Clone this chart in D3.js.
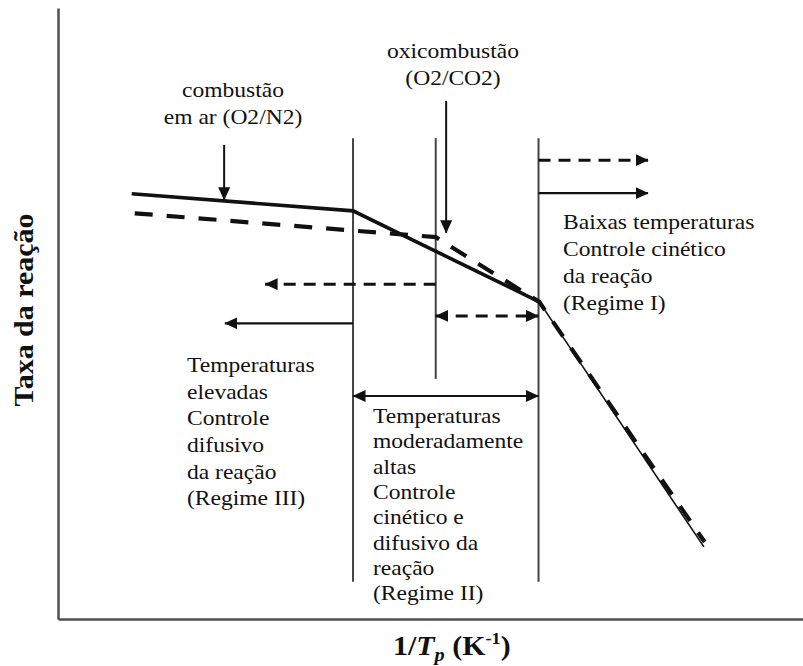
<!DOCTYPE html>
<html>
<head>
<meta charset="utf-8">
<script src="https://cdn.jsdelivr.net/npm/d3@7"></script>
<style>
  html, body { margin: 0; padding: 0; background: #fff; }
  svg { display: block; }
  text { font-family: "Liberation Serif", "Times New Roman", serif; fill: #111; }
</style>
</head>
<body>
<script>
// Schematic: reaction rate vs 1/Tp, air (O2/N2) vs oxy-fuel (O2/CO2) combustion regimes
const xDomain = [0, 10];
const yDomain = [0, 10];

// Air combustion (solid) and oxy-combustion (dashed) curves
const airCurve = [
  { x: 0.99, y: 6.96 },
  { x: 3.96, y: 6.68 },
  { x: 6.46, y: 5.19 },
  { x: 8.67, y: 1.18 }
];
const oxyCurve = [
  { x: 1.03, y: 6.64 },
  { x: 5.07, y: 6.25 },
  { x: 6.46, y: 5.19 },
  { x: 8.68, y: 1.26 }
];

// Regime boundaries (vertical lines)
const boundaries = [
  { x: 3.96, y0: 0.61, y1: 7.87 },
  { x: 5.07, y0: 3.93, y1: 7.87 },
  { x: 6.45, y0: 0.61, y1: 7.87 }
];

// Horizontal range arrows
const rangeArrows = [
  { x0: 6.45, x1: 7.92, y: 7.51, dashed: true,  both: false },
  { x0: 6.45, x1: 7.92, y: 6.97, dashed: false, both: false },
  { x0: 5.07, x1: 2.78, y: 5.48, dashed: true,  both: false },
  { x0: 3.96, x1: 2.24, y: 4.84, dashed: false, both: false },
  { x0: 5.07, x1: 6.45, y: 4.96, dashed: true,  both: true },
  { x0: 3.96, x1: 6.45, y: 3.65, dashed: false, both: true }
];

// Pointer arrows to each curve
const pointers = [
  { x: 2.23, y0: 7.76, y1: 6.86 },
  { x: 5.21, y0: 8.48, y1: 6.32 }
];

const airLabel = ["combustão", "em ar (O2/N2)"];
const oxyLabel = ["oxicombustão", "(O2/CO2)"];
const regimeI = ["Baixas temperaturas", "Controle cinético", "da reação", "(Regime I)"];
const regimeII = ["Temperaturas", "moderadamente", "altas", "Controle", "cinético e", "difusivo da", "reação", "(Regime II)"];
const regimeIII = ["Temperaturas", "elevadas", "Controle", "difusivo", "da reação", "(Regime III)"];
const yTitle = "Taxa da reação";

const W = 803, H = 666;
const svg = d3.select("body").append("svg").attr("width", W).attr("height", H);
svg.append("rect").attr("width", W).attr("height", H).attr("fill", "#fff");

const x = d3.scaleLinear().domain(xDomain).range([58, 803]);
const y = d3.scaleLinear().domain(yDomain).range([619, 8]);

// Arrowhead markers
const defs = svg.append("defs");
defs.append("marker")
  .attr("id", "head")
  .attr("markerUnits", "userSpaceOnUse")
  .attr("viewBox", "0 0 13 12")
  .attr("markerWidth", 13).attr("markerHeight", 12)
  .attr("refX", 12.5).attr("refY", 6)
  .attr("orient", "auto-start-reverse")
  .append("path").attr("d", "M0,0L13,6L0,12Z").attr("fill", "#111");

// Axes without ticks
const axisColor = "#505050";
const gx = svg.append("g").attr("transform", `translate(0,${y(0)})`)
  .call(d3.axisBottom(x).tickValues([]).tickSizeOuter(0));
const gy = svg.append("g").attr("transform", `translate(${x(0)},0)`)
  .call(d3.axisLeft(y).tickValues([]).tickSizeOuter(0));
[gx, gy].forEach(g => g.select(".domain").attr("stroke", axisColor).attr("stroke-width", 2.5));

// Regime boundaries
svg.append("g").selectAll("line").data(boundaries).join("line")
  .attr("x1", d => x(d.x)).attr("x2", d => x(d.x))
  .attr("y1", d => y(d.y0)).attr("y2", d => y(d.y1))
  .attr("stroke", "#444").attr("stroke-width", 2);

const line = d3.line().x(d => x(d.x)).y(d => y(d.y));

// Air curve: heavy upper part, thin steep tail
svg.append("path").datum(airCurve.slice(0, 3)).attr("d", line)
  .attr("fill", "none").attr("stroke", "#111").attr("stroke-width", 3.6);
svg.append("path").datum(airCurve.slice(2)).attr("d", line)
  .attr("fill", "none").attr("stroke", "#111").attr("stroke-width", 1.6);

// Oxy curve, dashed
svg.append("path").datum(oxyCurve).attr("d", line)
  .attr("fill", "none").attr("stroke", "#111").attr("stroke-width", 4.2)
  .attr("stroke-dasharray", "18,14");

// Range arrows
svg.append("g").selectAll("line").data(rangeArrows).join("line")
  .attr("x1", d => x(d.x0)).attr("x2", d => x(d.x1))
  .attr("y1", d => y(d.y)).attr("y2", d => y(d.y))
  .attr("stroke", "#111")
  .attr("stroke-width", d => d.dashed ? 3 : 2.2)
  .attr("stroke-dasharray", d => d.dashed ? "12,8" : null)
  .attr("marker-end", "url(#head)")
  .attr("marker-start", d => d.both ? "url(#head)" : null);

// Pointer arrows
svg.append("g").selectAll("line").data(pointers).join("line")
  .attr("x1", d => x(d.x)).attr("x2", d => x(d.x))
  .attr("y1", d => y(d.y0)).attr("y2", d => y(d.y1))
  .attr("stroke", "#111").attr("stroke-width", 2)
  .attr("marker-end", "url(#head)");

// Text blocks (slightly wide serif)
const sx = 1.07;
function block(lines, px, py, lh, anchor) {
  const g = svg.append("g");
  lines.forEach((t, i) => {
    g.append("text")
      .attr("transform", `translate(${px},${py + i * lh}) scale(${sx},1)`)
      .attr("text-anchor", anchor)
      .attr("font-size", 22)
      .text(t);
  });
}
block(airLabel, 233, 97, 27, "middle");
block(oxyLabel, 453, 58, 26.5, "middle");
block(regimeI, 563, 229, 27, "start");
block(regimeIII, 187, 372, 26.67, "start");
block(regimeII, 373, 423, 25.3, "start");

// Axis titles
svg.append("text")
  .attr("transform", `translate(33,310) scale(1,${sx}) rotate(-90)`)
  .attr("text-anchor", "middle")
  .attr("font-size", 28).attr("font-weight", "bold")
  .text(yTitle);

const xt = svg.append("text")
  .attr("transform", `translate(393,655) scale(${sx},1)`)
  .attr("font-size", 28).attr("font-weight", "bold");
xt.append("tspan").text("1/");
xt.append("tspan").attr("font-style", "italic").text("T");
xt.append("tspan").attr("font-style", "italic").attr("font-size", 19).attr("dy", 6).text("p");
xt.append("tspan").attr("dy", -6).text(" (K");
xt.append("tspan").attr("font-size", 17).attr("dy", -11).text("-1");
xt.append("tspan").attr("dy", 11).text(")");
</script>
</body>
</html>
